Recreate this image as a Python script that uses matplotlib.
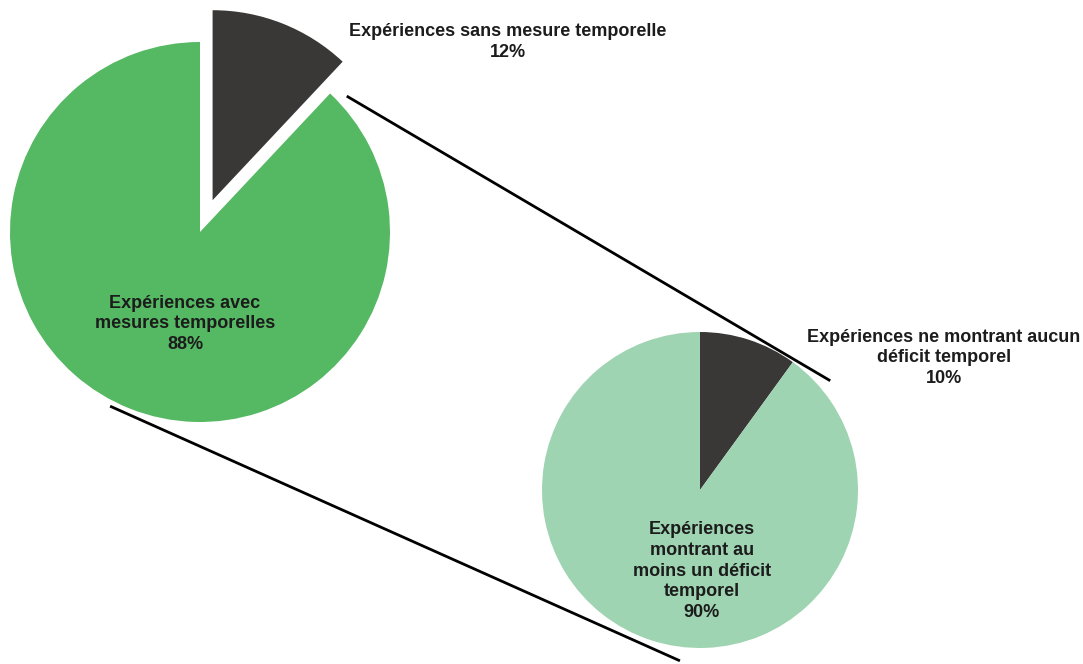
import numpy as np
import matplotlib
matplotlib.use("Agg")
import matplotlib.pyplot as plt

plt.rcParams["font.family"] = ["Liberation Sans", "DejaVu Sans"]

# data
outer_labels = ["Expériences sans mesure temporelle", "Expériences avec\nmesures temporelles"]
outer_values = [12, 88]
inner_labels = ["Expériences ne montrant aucun\ndéficit temporel",
                "Expériences\nmontrant au\nmoins un déficit\ntemporel"]
inner_values = [10, 90]

DARK = "#3a3836"
GREEN = "#55b862"
LIGHT = "#9ed4b1"
INK = "#1c1c1c"

W, H = 1083, 664
fig = plt.figure(figsize=(W / 100, H / 100), dpi=100)
ax = fig.add_axes([0, 0, 1, 1])

# pie geometry in pixel space (y up)
c1, r1 = (200, H - 232), 190
c2, r2 = (700, H - 490), 158

# explode offset is in data units here, so scale by the radius
ax.pie(outer_values, colors=[DARK, GREEN], explode=[0.18 * r1, 0], startangle=90,
       counterclock=False, center=c1, radius=r1, frame=True,
       wedgeprops=dict(linewidth=0))
ax.pie(inner_values, colors=[DARK, LIGHT], startangle=90,
       counterclock=False, center=c2, radius=r2, frame=True,
       wedgeprops=dict(linewidth=0))
ax.set_xlim(0, W); ax.set_ylim(0, H)
ax.set_aspect("equal"); ax.set_axis_off()


def pt(c, r, ang):
    a = np.deg2rad(ang)
    return c[0] + r * np.cos(a), c[1] + r * np.sin(a)


# connectors between the two pies
for (a1, d1), (a2, d2) in [((42.8, 200), (40.0, 170)), ((-117.3, 196), (-96.7, 172))]:
    p, q = pt(c1, d1, a1), pt(c2, d2, a2)
    ax.plot([p[0], q[0]], [p[1], q[1]], color="black", lw=2, solid_capstyle="butt")

kw = dict(ha="center", va="center", fontsize=13, fontweight="bold", color=INK,
          linespacing=1.3)
ax.text(508, H - 42, f"{outer_labels[0]}\n{outer_values[0]}%", **kw)
ax.text(185, H - 324, f"{outer_labels[1]}\n{outer_values[1]}%", **kw)
ax.text(944, H - 358, f"{inner_labels[0]}\n{inner_values[0]}%", **kw)
ax.text(702, H - 571, f"{inner_labels[1]}\n{inner_values[1]}%", **kw)

fig.savefig("out.png", dpi=100, facecolor="white")
